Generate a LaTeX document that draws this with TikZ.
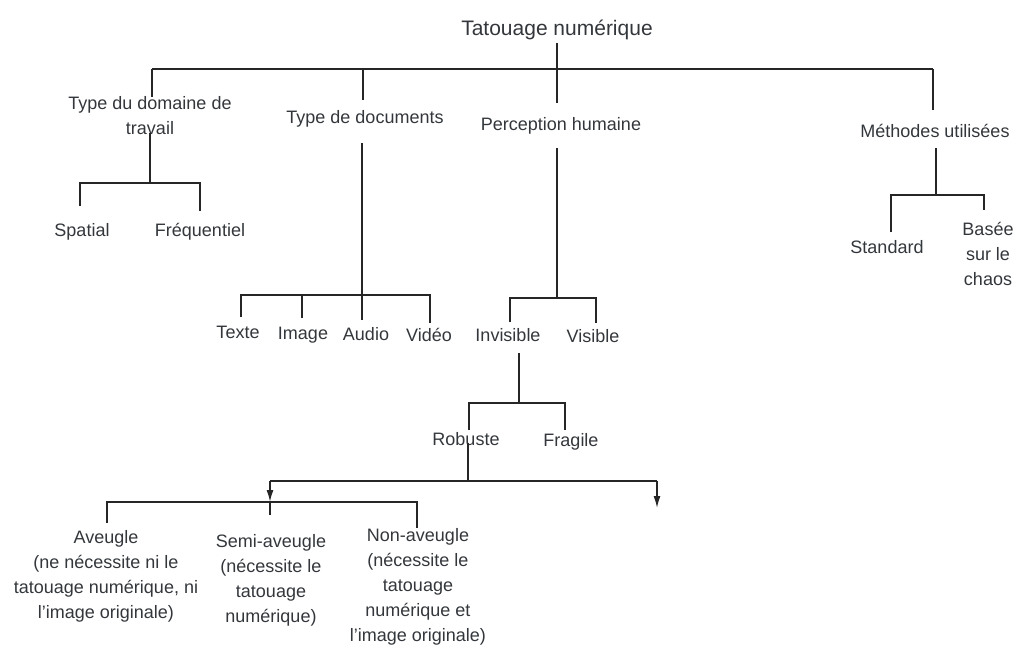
\documentclass[tikz,border=0pt]{standalone}
\usepackage{fontspec}
\setmainfont{Liberation Sans}
\usetikzlibrary{calc,arrows.meta}
\definecolor{ink}{HTML}{262626}
\definecolor{txt}{HTML}{33373B}
\begin{document}
\begin{tikzpicture}[x=1pt,y=-1pt,
  lbl/.style={anchor=base, inner sep=0pt, text=txt, align=center,
              font=\fontsize{18}{25}\selectfont},
  ttl/.style={lbl, font=\fontsize{21}{25}\selectfont},
  wire/.style={draw=ink, line width=1.5pt},
  tip/.style={wire, -{Latex[length=12pt,width=7pt]}}]
\useasboundingbox (0,0) rectangle (1018,651);

% ---- labels (base = baseline of the last line) ----
\node[ttl] (root)  at (557,35)  {Tatouage numérique};
\node[lbl] (dom)   at (150,134) {Type du domaine de\\travail};
\node[lbl] (doc)   at (365,123) {Type de documents};
\node[lbl] (perc)  at (561,130) {Perception humaine};
\node[lbl] (meth)  at (935,137) {Méthodes utilisées};
\node[lbl] (spat)  at (82,236)  {Spatial};
\node[lbl] (freq)  at (200,236) {Fréquentiel};
\node[lbl] (std)   at (887,253) {Standard};
\node[lbl] (chaos) at (988,285) {Basée\\sur le\\chaos};
\node[lbl] (texte) at (238,338) {Texte};
\node[lbl] (image) at (303,339) {Image};
\node[lbl] (audio) at (366,340) {Audio};
\node[lbl] (video) at (429,341) {Vidéo};
\node[lbl] (invis) at (508,341) {Invisible};
\node[lbl] (vis)   at (593,342) {Visible};
\node[lbl] (rob)   at (466,445) {Robuste};
\node[lbl] (frag)  at (571,446) {Fragile};
\node[lbl] (blind) at (106,618) {Aveugle\\(ne nécessite ni le\\tatouage numérique, ni\\l'image originale)};
\node[lbl] (semi)  at (271,622) {Semi-aveugle\\(nécessite le\\tatouage\\numérique)};
\node[lbl] (nonb)  at (418,641) {Non-aveugle\\(nécessite le\\tatouage\\numérique et\\l'image originale)};

% ---- junction points on the bars ----
\coordinate (domj)  at (152,69);
\coordinate (docj)  at (363,69);
\coordinate (methj) at (933,69);
\coordinate (domk)  at (150,183);
\coordinate (docj2) at (362,295);
\coordinate (perck) at (557,298);
\coordinate (invk)  at (519,403);
\coordinate (robk)  at (468,481);
\coordinate (semij) at (270,481);
\coordinate (rightj) at (657,481);
\coordinate (gk)    at (270,502);
\coordinate (ghost) at (657,508);
\coordinate (methk) at (936,195);

% ---- first level ----
\draw[wire] (domj) -- (methj);
\draw[wire] ($(root.base)+(0,8)$) -- ($(perc.base)+(-4,-27)$);
\draw[wire] (domj) -- ($(dom.base)+(2,-37)$);
\draw[wire] (docj) -- ($(doc.base)+(-2,-23)$);
\draw[wire] (methj) -- ($(meth.base)+(-2,-27)$);

% ---- working domain ----
\draw[wire] ($(dom.base)+(0,-1)$) -- (domk);
\draw[wire] ($(spat.base)+(-2,-30)$) |- (domk) -| ($(freq.base)+(0,-25)$);

% ---- document types ----
\draw[wire] ($(doc.base)+(-3,20)$) -- ($(audio.base)+(-4,-20)$);
\draw[wire] ($(texte.base)+(3,-21)$) |- (docj2) -| ($(video.base)+(1,-18)$);
\draw[wire] ($(image.base)+(-1,-21)$) |- (docj2);

% ---- human perception ----
\draw[wire] ($(perc.base)+(-4,18)$) -- (perck);
\draw[wire] ($(invis.base)+(2,-19)$) |- (perck) -| ($(vis.base)+(3,-19)$);
\draw[wire] ($(invis.base)+(11,12)$) -- (invk);
\draw[wire] ($(rob.base)+(3,-15)$) |- (invk) -| ($(frag.base)+(-6,-16)$);

% ---- robust watermarking ----
\draw[wire] ($(rob.base)+(2,-2)$) -- (robk);
\draw[wire] (semij) -- (rightj);
\draw[tip] (semij) -- (gk);
\draw[tip] (rightj) -- (ghost);
\draw[wire] ($(blind.base)+(1,-95)$) |- (gk) -| ($(nonb.base)+(-1,-113)$);
\draw[wire] (gk) -- ($(semi.base)+(-1,-107)$);

% ---- methods ----
\draw[wire] ($(meth.base)+(1,11)$) -- (methk);
\draw[wire] ($(std.base)+(4,-21)$) |- (methk) -| ($(chaos.base)+(-4,-75)$);
\end{tikzpicture}
\end{document}
